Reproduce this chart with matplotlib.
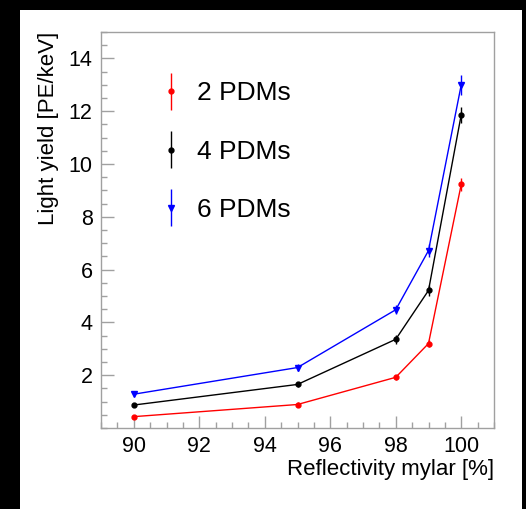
import matplotlib.pyplot as plt
from matplotlib.patches import Rectangle
from matplotlib.ticker import MultipleLocator
from matplotlib.container import ErrorbarContainer
from matplotlib.legend_handler import HandlerErrorbar

plt.rcParams['font.family'] = ['Liberation Sans', 'DejaVu Sans']

# data
reflectivity = [90, 95, 98, 99, 100]
ly_2pdm = [0.43, 0.89, 1.92, 3.20, 9.23]
err_2pdm = [0.08, 0.08, 0.10, 0.15, 0.25]
ly_4pdm = [0.87, 1.65, 3.36, 5.21, 11.87]
err_4pdm = [0.08, 0.10, 0.18, 0.22, 0.30]
ly_6pdm = [1.28, 2.29, 4.48, 6.72, 13.0]
err_6pdm = [0.08, 0.12, 0.18, 0.25, 0.38]
labels = ["2 PDMs", "4 PDMs", "6 PDMs"]

W, H = 526, 509
fig = plt.figure(figsize=(W / 100, H / 100), dpi=100)
fig.patch.set_facecolor('black')
fig.add_artist(Rectangle((20 / W, 0), 502 / W, 499 / H, transform=fig.transFigure,
                         facecolor='white', edgecolor='none', zorder=-1))

ax = fig.add_axes([101 / W, 81 / H, 393 / W, 396 / H])

series = [(ly_2pdm, err_2pdm, 'red', 'o', 3.5),
          (ly_4pdm, err_4pdm, 'black', 'o', 3.5),
          (ly_6pdm, err_6pdm, 'blue', 'v', 5)]
handles = []
for (y, e, c, m, ms), lab in zip(series, labels):
    ax.plot(reflectivity, y, color=c, lw=1)
    h = ax.errorbar(reflectivity, y, yerr=e, fmt=m, color=c, ms=ms,
                    elinewidth=1, capsize=0, label=lab)
    handles.append(h)

ax.set_xlim(89, 101)
ax.set_ylim(0, 15)
ax.xaxis.set_major_locator(MultipleLocator(2))
ax.xaxis.set_minor_locator(MultipleLocator(0.5))
ax.yaxis.set_minor_locator(MultipleLocator(0.5))
ax.set_yticks([2, 4, 6, 8, 10, 12, 14])

frame = '#a0a0a0'
for s in ax.spines.values():
    s.set_color(frame)
    s.set_linewidth(1)
ax.tick_params(which='both', direction='in', color=frame, width=1, labelsize=15.5)
ax.tick_params(which='major', length=9, pad=6)
ax.tick_params(which='minor', length=4.5)

ax.set_xlabel("Reflectivity mylar [%]", fontsize=16, loc='right', labelpad=1)
ax.set_ylabel("Light yield [PE/keV]", fontsize=16, loc='top', labelpad=7)

ax.legend(handles=handles, loc='upper left', bbox_to_anchor=(0.09, 0.935),
          frameon=False, fontsize=19, labelspacing=1.3, handlelength=0.8,
          handletextpad=0.6,
          handler_map={ErrorbarContainer: HandlerErrorbar(yerr_size=0.7)})

fig.savefig('out.png', dpi=100, facecolor=fig.get_facecolor())
